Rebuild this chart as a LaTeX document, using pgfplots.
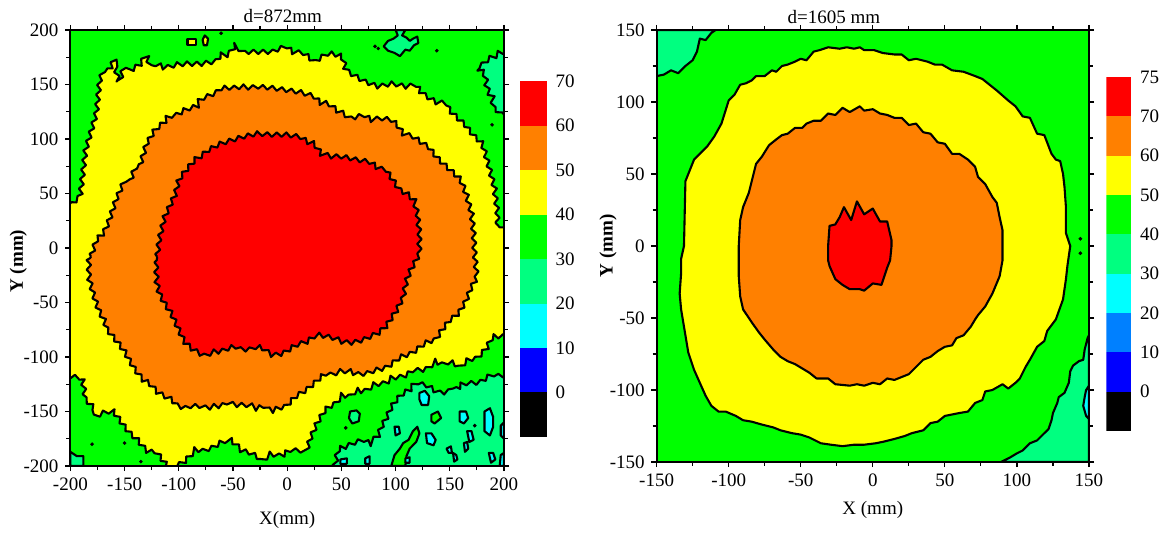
\documentclass[border=0pt]{standalone}
\usepackage{pgfplots}
\pgfplotsset{compat=1.18}
\usetikzlibrary{decorations.pathmorphing}
\usepackage{fontspec}
\setmainfont{Liberation Serif}
\definecolor{cRed}{RGB}{255,0,0}
\definecolor{cOrange}{RGB}{255,128,0}
\definecolor{cYellow}{RGB}{255,255,0}
\definecolor{cGreen}{RGB}{0,255,0}
\definecolor{cTeal}{RGB}{0,255,128}
\definecolor{cCyan}{RGB}{0,255,255}
\definecolor{cDodger}{RGB}{0,128,255}
\definecolor{cBlue}{RGB}{0,0,255}
\begin{document}
\fontsize{9.5}{11}\selectfont
\begin{tikzpicture}
\useasboundingbox (0,0) rectangle (582pt,268pt);
\pgfplotsset{
  ctr/.style={draw=black, line width=1.05pt, mark=none, line join=round},
  zz/.style={decorate, decoration={zigzag, amplitude=1.1pt, segment length=4.8pt}},
  mapaxis/.style={scale only axis, anchor=south west, axis on top,
    tick align=outside, minor x tick num=1, minor y tick num=1,
    major tick length=2.6pt, minor tick length=2pt,
    axis line style={line width=0.9pt},
    every tick/.style={line width=0.6pt, black},
    axis background/.style={fill=cGreen},
    ylabel style={font=\bfseries\fontsize{9.5}{11}\selectfont, anchor=center},
    xlabel style={anchor=center},
    title style={anchor=center, yshift=-4.6pt},
  },
  cbaxis/.style={scale only axis, anchor=south west, xmin=0, xmax=1,
    xtick=\empty, axis line style={draw=none}, major tick length=0pt,
    yticklabel pos=right, every tick/.style={draw=none},
    yticklabel style={xshift=1pt}},
}
% ---------------- left map ----------------
\begin{axis}[mapaxis, at={(35.2pt,35pt)}, width=216.8pt, height=218pt,
  xmin=-200, xmax=200, ymin=-200, ymax=200,
  xtick={-200,-150,...,200}, xticklabels={-200,-150,-100,-50,0,50,100,150,200},
  ytick={-200,-150,...,200}, yticklabels={-200,-150,-100,-50,0,50,100,150,200},
  title={d=872mm}, title style={at={(axis description cs:0.49,1.026)}},
  xlabel={X(mm)}, xlabel style={at={(axis description cs:0.5,-0.124)}},
  ylabel={Y (mm)}, ylabel style={at={(axis description cs:-0.12,0.47)}}]
% 30-40 regions
\addplot[ctr, zz, fill=cTeal] coordinates {(44,-210) (44,-200) (47,-184) (55,-182) (61,-179) (70,-176) (76,-179) (84,-172) (87,-164) (92,-155) (96,-146) (101,-139) (107,-133) (113,-130) (116,-126) (119,-124) (129,-126) (135,-130) (141,-133) (147,-132) (152,-127) (156,-130) (162,-124) (172,-124) (178,-123) (184,-119) (190,-116) (196,-118) (200,-116) (210,-116) (210,-210)} --cycle;
\addplot[ctr, zz, fill=cTeal] coordinates {(210,180) (200,180) (195,179) (192,176) (186,174) (182,170) (175,166) (178,163) (182,161) (183,156) (184,148) (186,143) (189,139) (190,131) (193,127) (196,124) (200,123) (210,123)} --cycle;
\addplot[ctr, fill=cTeal] coordinates {(100,200) (102,195) (98,192) (93,190) (89,185) (93,181) (99,179) (104,176) (109,182) (113,181) (117,186) (121,188) (120,194) (116,192) (113,190) (110,193) (106,195) (109,200)} --cycle;
\addplot[ctr, fill=cTeal] coordinates {(-200,-187) (-194,-191) (-188,-191) (-188,-200) (-200,-200)} --cycle;
\addplot[ctr, fill=cTeal] coordinates {(58,-150) (64,-149) (67,-152) (66,-159) (60,-161) (57,-156)} --cycle;
% green pieces inside the 20-30 region
\addplot[ctr, fill=cGreen] coordinates {(96,-200) (99,-190) (104,-184) (107,-179) (112,-176) (116,-168) (120,-164) (122,-170) (119,-178) (113,-184) (110,-191) (109,-200)} --cycle;
\addplot[ctr, fill=cGreen] coordinates {(133,-153) (139,-150) (142,-156) (136,-161) (133,-159)} --cycle;
% 20-30 islands
\addplot[ctr, fill=cCyan] coordinates {(122,-133) (127,-131) (131,-136) (130,-144) (124,-144) (122,-139)} --cycle;
\addplot[ctr, fill=cCyan] coordinates {(99,-164) (103,-164) (104,-170) (100,-172)} --cycle;
\addplot[ctr, fill=cCyan] coordinates {(128,-170) (133,-170) (137,-176) (135,-181) (129,-179)} --cycle;
\addplot[ctr, fill=cCyan] coordinates {(159,-150) (165,-150) (167,-156) (163,-161) (159,-159)} --cycle;
\addplot[ctr, fill=cCyan] coordinates {(166,-168) (170,-168) (172,-176) (168,-178)} --cycle;
\addplot[ctr, fill=cCyan] coordinates {(182,-150) (187,-147) (190,-155) (190,-164) (187,-172) (182,-168) (182,-161)} --cycle;
\addplot[ctr, fill=cCyan] coordinates {(163,-179) (166,-178) (167,-184) (164,-187)} --cycle;
\addplot[ctr, fill=cCyan] coordinates {(147,-184) (151,-182) (152,-188) (149,-188)} --cycle;
\addplot[ctr, fill=cCyan] coordinates {(153,-188) (156,-190) (157,-194) (154,-196)} --cycle;
\addplot[ctr, fill=cCyan] coordinates {(186,-188) (190,-188) (192,-194) (188,-197)} --cycle;
\addplot[ctr, fill=cCyan] coordinates {(49,-194) (55,-193) (55,-198) (49,-198)} --cycle;
\addplot[ctr, fill=cCyan] coordinates {(72,-193) (76,-191) (76,-198) (72,-198)} --cycle;
\addplot[ctr, fill=cCyan] coordinates {(109,-193) (113,-192) (113,-197) (109,-197)} --cycle;
\addplot[ctr, fill=cCyan] coordinates {(197,-163) (200,-160) (200,-175) (197,-172)} --cycle;
\addplot[ctr, fill=cCyan] coordinates {(197,-190) (200,-188) (200,-200) (196,-200)} --cycle;
% 40-50
\addplot[ctr, zz, fill=cYellow] coordinates {(-210,40) (-200,40) (-191,47) (-186,90) (-180,110) (-176,124) (-173,153) (-170,162) (-164,163) (-160,172) (-158,163) (-155,151) (-151,165) (-146,162) (-135,169) (-130,178) (-127,168) (-120,169) (-113,165) (-103,168) (-94,169) (-80,169) (-67,171) (-61,177) (-54,177) (-48,186) (-41,180) (-28,180) (-15,180) (-1,185) (5,180) (15,179) (25,171) (38,179) (51,176) (54,163) (64,157) (71,153) (84,148) (97,151) (110,148) (119,150) (124,142) (137,134) (145,133) (152,124) (163,114) (173,102) (180,96) (186,75) (191,56) (194,32) (194,20) (200,21) (210,21) (210,-81) (200,-81) (189,-81) (184,-92) (176,-100) (166,-103) (160,-109) (150,-104) (143,-107) (137,-104) (130,-110) (124,-112) (117,-112) (107,-118) (97,-119) (91,-124) (81,-125) (71,-132) (64,-130) (58,-136) (51,-135) (45,-142) (35,-148) (28,-160) (22,-173) (18,-185) (10,-186) (2,-185) (-5,-191) (-15,-189) (-23,-195) (-28,-191) (-34,-188) (-41,-186) (-51,-177) (-59,-177) (-67,-182) (-77,-186) (-84,-185) (-94,-195) (-100,-199) (-104,-200) (-104,-210) (-110,-210) (-110,-200) (-113,-197) (-120,-188) (-130,-186) (-138,-176) (-145,-170) (-150,-164) (-155,-157) (-161,-149) (-169,-151) (-176,-154) (-178,-147) (-186,-139) (-189,-119) (-200,-118) (-210,-118)} --cycle;
\addplot[ctr, fill=cYellow] coordinates {(-92,192) (-84,192) (-84,186) (-92,186)} --cycle;
\addplot[ctr, fill=cYellow] coordinates {(-76,195) (-73,192) (-74,186) (-77,186) (-78,191)} --cycle;
% 50-60
\addplot[ctr, zz, fill=cOrange] coordinates {(-181,-8) (-176,8) (-169,14) (-164,26) (-158,44) (-151,60) (-145,61) (-141,72) (-136,75) (-130,95) (-123,107) (-120,110) (-113,116) (-110,121) (-102,122) (-94,127) (-84,130) (-80,137) (-74,139) (-67,142) (-61,147) (-51,147) (-41,148) (-34,147) (-28,148) (-15,147) (-1,145) (12,143) (22,140) (25,139) (31,133) (38,133) (45,127) (51,124) (58,119) (71,122) (77,118) (87,119) (94,118) (101,114) (107,105) (117,102) (125,96) (130,93) (140,81) (150,72) (160,63) (165,50) (170,32) (172,14) (173,-5) (175,-27) (170,-36) (165,-48) (160,-57) (156,-62) (150,-66) (143,-75) (137,-84) (127,-87) (120,-93) (114,-97) (104,-100) (97,-106) (91,-110) (81,-112) (74,-115) (64,-116) (58,-113) (51,-113) (41,-116) (35,-115) (25,-124) (18,-130) (8,-136) (-1,-145) (-8,-147) (-15,-150) (-21,-145) (-28,-147) (-34,-144) (-41,-144) (-48,-144) (-54,-142) (-61,-145) (-67,-145) (-74,-147) (-80,-145) (-87,-145) (-94,-147) (-100,-145) (-107,-139) (-113,-136) (-120,-132) (-127,-124) (-133,-121) (-140,-112) (-145,-104) (-150,-95) (-156,-87) (-166,-75) (-169,-66) (-174,-57) (-179,-42) (-183,-27) (-183,-11)} --cycle;
% 60-70
\addplot[ctr, zz, fill=cRed] coordinates {(-120,-8) (-118,8) (-113,29) (-110,35) (-103,50) (-100,63) (-92,73) (-85,81) (-80,84) (-74,89) (-67,93) (-61,96) (-51,99) (-41,102) (-28,105) (-15,104) (-1,104) (12,102) (18,98) (25,96) (31,87) (41,84) (51,84) (64,81) (77,79) (84,73) (91,72) (97,63) (104,53) (110,50) (117,44) (120,32) (122,14) (122,-5) (119,-11) (114,-20) (110,-30) (107,-45) (101,-57) (97,-63) (91,-72) (84,-78) (77,-81) (71,-84) (64,-86) (58,-87) (51,-86) (45,-83) (31,-80) (25,-81) (18,-86) (8,-89) (-1,-95) (-8,-98) (-15,-98) (-21,-93) (-28,-90) (-34,-93) (-41,-93) (-48,-90) (-54,-92) (-61,-95) (-67,-95) (-74,-98) (-80,-97) (-87,-93) (-95,-86) (-100,-75) (-107,-60) (-113,-51) (-118,-42) (-120,-33) (-121,-20)} --cycle;
% tiny closed contours
\addplot[only marks, mark=*, mark size=0.7pt, black] coordinates {(-61,197) (81,185) (84,183) (138,181) (189,113) (-180,-180) (-150,-179) (-135,-196) (54,-165) (173,-163)};
\end{axis}
% ---------------- left colour bar ----------------
\begin{axis}[cbaxis, at={(260pt,49.5pt)}, width=13.5pt, height=178pt,
  ymin=0, ymax=8, ytick={1,...,8}, yticklabels={0,10,20,30,40,50,60,70}]
\addplot[fill=black, draw=none] coordinates {(0,0) (1,0) (1,1) (0,1)} --cycle;
\addplot[fill=cBlue, draw=none] coordinates {(0,1) (1,1) (1,2) (0,2)} --cycle;
\addplot[fill=cCyan, draw=none] coordinates {(0,2) (1,2) (1,3) (0,3)} --cycle;
\addplot[fill=cTeal, draw=none] coordinates {(0,3) (1,3) (1,4) (0,4)} --cycle;
\addplot[fill=cGreen, draw=none] coordinates {(0,4) (1,4) (1,5) (0,5)} --cycle;
\addplot[fill=cYellow, draw=none] coordinates {(0,5) (1,5) (1,6) (0,6)} --cycle;
\addplot[fill=cOrange, draw=none] coordinates {(0,6) (1,6) (1,7) (0,7)} --cycle;
\addplot[fill=cRed, draw=none] coordinates {(0,7) (1,7) (1,8) (0,8)} --cycle;
\end{axis}
% ---------------- right map ----------------
\begin{axis}[mapaxis, at={(328.3pt,37pt)}, width=216.2pt, height=216pt,
  xmin=-150, xmax=150, ymin=-150, ymax=150,
  xtick={-150,-100,...,150}, xticklabels={-150,-100,-50,0,50,100,150},
  ytick={-150,-100,...,150}, yticklabels={-150,-100,-50,0,50,100,150},
  title={d=1605 mm}, title style={at={(axis description cs:0.41,1.023)}},
  xlabel={X (mm)}, xlabel style={at={(axis description cs:0.5,-0.11)}},
  ylabel={Y (mm)}, ylabel style={at={(axis description cs:-0.112,0.5)}}]
\addplot[ctr, fill=cTeal] coordinates {(-150,118) (-145,119) (-140,122) (-135,120) (-130,125) (-125,129) (-122,135) (-120,144) (-116,143) (-112,148) (-109,150) (-150,150)} --cycle;
\addplot[ctr, fill=cTeal] coordinates {(89,-150) (95,-147) (100,-144) (104,-142) (109,-137) (114,-135) (118,-131) (122,-127) (124,-121) (125,-116) (128,-109) (129,-105) (133,-102) (136,-95) (137,-87) (139,-83) (143,-80) (146,-79) (147,-72) (149,-64) (150,-62) (150,-150)} --cycle;
\addplot[ctr, fill=cCyan] coordinates {(150,-97) (148,-100) (147,-105) (146,-111) (148,-118) (150,-120)} --cycle;
\addplot[ctr, fill=cYellow] coordinates {(-131,0) (-130,45) (-128,50) (-124,60) (-120,64) (-115,69) (-110,76) (-105,85) (-100,101) (-96,105) (-92,112) (-88,113) (-84,115) (-81,118) (-75,118) (-70,122) (-67,121) (-63,125) (-59,126) (-54,128) (-50,130) (-46,129) (-41,135) (-37,136) (-31,138) (-23,137) (-18,138) (-13,137) (-9,138) (-6,136) (1,136) (7,134) (15,133) (20,133) (25,129) (30,130) (38,128) (43,126) (48,126) (55,122) (63,121) (71,118) (76,116) (81,112) (86,108) (94,101) (99,97) (104,90) (109,89) (114,78) (119,77) (124,64) (127,60) (130,59) (132,50) (133,41) (134,27) (134,9) (137,0) (135,-14) (134,-23) (132,-37) (127,-51) (121,-59) (119,-66) (114,-70) (109,-79) (106,-84) (102,-92) (99,-95) (94,-99) (90,-96) (83,-100) (78,-101) (76,-107) (71,-109) (66,-115) (60,-116) (55,-117) (50,-118) (45,-122) (40,-123) (35,-128) (27,-130) (22,-132) (15,-134) (7,-136) (2,-137) (-6,-138) (-13,-138) (-21,-139) (-29,-138) (-36,-137) (-44,-133) (-50,-131) (-56,-130) (-64,-128) (-69,-126) (-77,-124) (-84,-122) (-90,-121) (-95,-118) (-102,-115) (-107,-115) (-112,-111) (-116,-104) (-120,-95) (-124,-86) (-128,-74) (-131,-56) (-133,-44) (-134,-33) (-133,-19) (-133,-9)} --cycle;
\addplot[ctr, fill=cOrange] coordinates {(-93,0) (-92,18) (-90,27) (-86,37) (-81,57) (-77,62) (-72,70) (-67,74) (-63,77) (-59,78) (-54,82) (-49,82) (-46,85) (-41,87) (-36,87) (-31,92) (-26,91) (-21,96) (-16,93) (-9,97) (-6,94) (0,95) (5,92) (10,91) (15,89) (20,89) (25,84) (30,85) (35,79) (40,78) (45,72) (50,71) (55,64) (60,64) (66,60) (71,55) (73,48) (78,43) (83,34) (86,30) (88,20) (90,11) (90,0) (90,-10) (88,-21) (83,-33) (78,-42) (73,-48) (71,-51) (68,-56) (63,-62) (58,-64) (55,-69) (50,-70) (45,-73) (40,-77) (35,-79) (30,-84) (25,-89) (20,-91) (15,-93) (10,-92) (5,-96) (0,-95) (-6,-97) (-11,-96) (-16,-97) (-26,-96) (-31,-92) (-39,-92) (-44,-88) (-49,-85) (-54,-82) (-59,-80) (-64,-77) (-69,-72) (-75,-65) (-79,-60) (-84,-53) (-90,-44) (-92,-35) (-93,-21) (-93,-10)} --cycle;
\addplot[ctr, fill=cRed] coordinates {(-31,0) (-30,14) (-26,15) (-23,20) (-20,27) (-15,18) (-11,31) (-6,22) (0,26) (5,17) (10,17) (13,4) (13,0) (12,-10) (10,-15) (6,-27) (0,-26) (-6,-31) (-9,-30) (-16,-30) (-21,-27) (-26,-23) (-30,-14) (-31,-10)} --cycle;
\addplot[only marks, mark=*, mark size=0.7pt, black] coordinates {(144,5) (144,-5)};
\end{axis}
% ---------------- right colour bar ----------------
\begin{axis}[cbaxis, at={(553.2pt,52.5pt)}, width=12.5pt, height=177pt,
  ymin=0, ymax=9, ytick={1,...,9}, yticklabels={0,10,20,30,40,50,60,70,75}]
\addplot[fill=black, draw=none] coordinates {(0,0) (1,0) (1,1) (0,1)} --cycle;
\addplot[fill=cBlue, draw=none] coordinates {(0,1) (1,1) (1,2) (0,2)} --cycle;
\addplot[fill=cDodger, draw=none] coordinates {(0,2) (1,2) (1,3) (0,3)} --cycle;
\addplot[fill=cCyan, draw=none] coordinates {(0,3) (1,3) (1,4) (0,4)} --cycle;
\addplot[fill=cTeal, draw=none] coordinates {(0,4) (1,4) (1,5) (0,5)} --cycle;
\addplot[fill=cGreen, draw=none] coordinates {(0,5) (1,5) (1,6) (0,6)} --cycle;
\addplot[fill=cYellow, draw=none] coordinates {(0,6) (1,6) (1,7) (0,7)} --cycle;
\addplot[fill=cOrange, draw=none] coordinates {(0,7) (1,7) (1,8) (0,8)} --cycle;
\addplot[fill=cRed, draw=none] coordinates {(0,8) (1,8) (1,9) (0,9)} --cycle;
\end{axis}
\end{tikzpicture}
\end{document}
